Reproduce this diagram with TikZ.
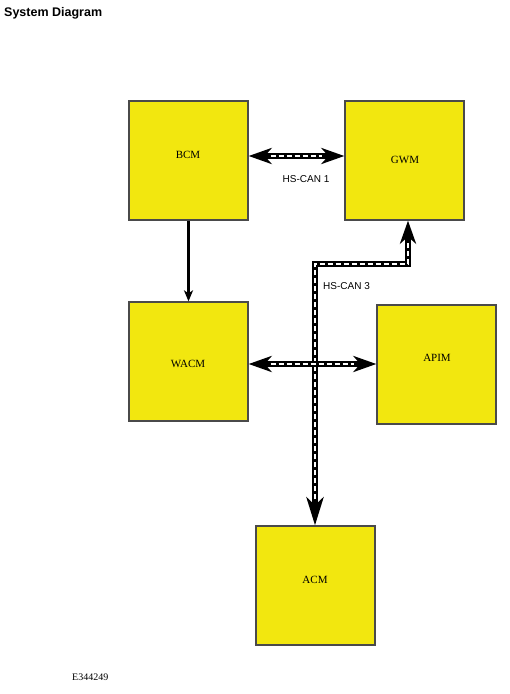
\documentclass[tikz,border=0pt]{standalone}
\usepackage{fontspec}
\setmainfont{Liberation Serif}
\newfontfamily\arialf{Liberation Sans}
\usetikzlibrary{arrows.meta}
\definecolor{boxyellow}{HTML}{F2E70F}
\definecolor{boxedge}{HTML}{4A4A4A}
\tikzset{
  modbox/.style={draw=boxedge, line width=1.3pt, fill=boxyellow, minimum width=119pt, minimum height=119pt, inner sep=0pt},
  modlabel/.style={font=\fontsize{11}{13}\selectfont, inner sep=0pt},
  canlabel/.style={font=\arialf\fontsize{10}{12}\selectfont, inner sep=0pt},
  bigtip/.tip={Stealth[length=23pt,width=16pt,inset=7pt]},
  cantrunk/.style={line width=6.5pt, black},
  candash/.style={line width=2.6pt, white, dash pattern=on 5pt off 3pt},
}
\begin{document}
\begin{tikzpicture}[x=1pt,y=-1pt]
\useasboundingbox (0,0) rectangle (510,694);
% title
\node[anchor=west, inner sep=0pt, font=\arialf\bfseries\fontsize{12.5}{14}\selectfont] (title) at (4,13) {System Diagram};
% boxes
\node[modbox] (bcm) at (188.5,160.5) {};
\node[modbox] (gwm) at (404.5,160.5) {};
\node[modbox] (wacm) at (188.5,361.5) {};
\node[modbox] (apim) at (436.5,364.5) {};
\node[modbox] (acm) at (315.5,585.5) {};
% labels
\node[modlabel] (bcmt) at (188,155) {BCM};
\node[modlabel] (gwmt) at (405,160) {GWM};
\node[modlabel] (wacmt) at (188,364) {WACM};
\node[modlabel] (apimt) at (437,358) {APIM};
\node[modlabel] (acmt) at (315,580) {ACM};
% BCM -> WACM
\draw[line width=2.2pt, -{Stealth[length=11pt,width=9pt,inset=3pt]}] (bcm.south) -- (wacm.north);
% HS-CAN 1
\coordinate (c1a) at (bcm.east |- 0,156);
\coordinate (c1b) at (gwm.west |- 0,156);
\draw[cantrunk, bigtip-bigtip] (c1a) -- (c1b);
\draw[candash, shorten <=22pt, shorten >=22pt] (c1a) -- (c1b);
\node[canlabel] (can1) at (306,179) {HS-CAN 1};
% HS-CAN 3
\coordinate (c3a) at (315,526);
\coordinate (c3c) at (315,264);
\coordinate (c3d) at (408,264);
\coordinate (c3e) at (408,221);
\draw[cantrunk, line join=miter, {Stealth[length=28pt,width=17pt,inset=8pt]}-bigtip] (acm.north -| c3a) -- (c3c) -- (c3d) -- (gwm.south -| c3e);
\draw[candash, shorten <=26pt, shorten >=22pt] (acm.north -| c3a) -- (c3c) -- (c3d) -- (gwm.south -| c3e);
\node[canlabel, anchor=west] (can3) at (323,286) {HS-CAN 3};
% WACM - APIM
\coordinate (c2a) at (wacm.east |- 0,364);
\coordinate (c2b) at (apim.west |- 0,364);
\draw[cantrunk, bigtip-bigtip] (c2a) -- (c2b);
\draw[candash, shorten <=22pt, shorten >=22pt] (c2a) -- (c2b);
% figure id
\node[anchor=west, inner sep=0pt, font=\fontsize{10}{12}\selectfont] (fid) at (72,677) {E344249};
\end{tikzpicture}
\end{document}
